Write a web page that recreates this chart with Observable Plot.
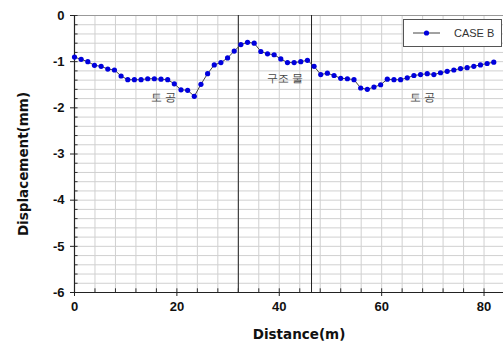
<!DOCTYPE html>
<html>
<head>
<meta charset="utf-8">
<script src="https://cdn.jsdelivr.net/npm/d3@7"></script>
<script src="https://cdn.jsdelivr.net/npm/@observablehq/plot@0.6"></script>
<style>
  html, body { margin: 0; padding: 0; background: #fff; }
  #wrap { position: relative; width: 503px; height: 345px; font-family: "Liberation Sans", Arial, sans-serif; }
  #legend { position: absolute; left: 403px; top: 19px; width: 97px; height: 26px; border: 1px solid #555; background: #fff; display: flex; align-items: center; }
  #legend span { font-size: 11px; color: #333; margin-left: 6px; }
</style>
</head>
<body>
<div id="wrap"></div>
<script>
const seriesName = "CASE B";
const xLabel = "Distance(m)";
const yLabel = "Displacement(mm)";
const distance = [0, 1.3, 2.6, 3.9, 5.2, 6.5, 7.8, 9.1, 10.4, 11.7, 13.0, 14.3, 15.6, 16.9, 18.2, 19.5,
  20.8, 22.1, 23.4, 24.7, 26.0, 27.3, 28.6, 29.9, 31.2, 32.5, 33.8, 35.1, 36.4, 37.7, 39.0, 40.3,
  41.6, 42.9, 44.2, 45.5, 46.8, 48.1, 49.4, 50.7, 52.0, 53.3, 54.6, 55.9, 57.2, 58.5, 59.8, 61.1,
  62.4, 63.7, 65.0, 66.3, 67.6, 68.9, 70.2, 71.5, 72.8, 74.1, 75.4, 76.7, 78.0, 79.3, 80.6, 81.9];
const displacement = [-0.90, -0.95, -1.00, -1.08, -1.10, -1.16, -1.18, -1.31, -1.39, -1.39, -1.39, -1.37, -1.37, -1.38, -1.39, -1.48,
  -1.61, -1.62, -1.75, -1.49, -1.26, -1.07, -1.02, -0.92, -0.77, -0.63, -0.58, -0.60, -0.78, -0.83, -0.85, -0.94,
  -1.02, -1.02, -1.00, -0.97, -1.10, -1.28, -1.25, -1.30, -1.36, -1.37, -1.39, -1.57, -1.60, -1.55, -1.50, -1.38,
  -1.39, -1.39, -1.35, -1.30, -1.28, -1.26, -1.28, -1.24, -1.21, -1.18, -1.15, -1.13, -1.10, -1.07, -1.04, -1.01];
const sectionBounds = [32, 46.3];
const zoneLabels = ["토 공", "구조 물", "토 공"];
const zoneX = [17.4, 41.2, 68.0];
const zoneY = [-1.77, -1.36, -1.77];
const xTicks = [0, 20, 40, 60, 80];
const yTicks = [0, -1, -2, -3, -4, -5, -6];
const xMax = 83.8;

const data = distance.map((d, i) => ({x: d, y: displacement[i]}));
const zones = zoneLabels.map((t, i) => ({t, x: zoneX[i], y: zoneY[i]}));
const xGrid = d3.range(0, xMax, 4);
const yGrid = d3.range(-6, 0.001, 0.2).map(v => +v.toFixed(1));

const font = {fontSize: 13, fontWeight: "bold", fill: "#111"};
const titleFont = {fontSize: 13.5, fontWeight: "bold", fill: "#111", fontFamily: "'DejaVu Sans', sans-serif"};

const chart = Plot.plot({
  width: 503,
  height: 345,
  marginLeft: 74,
  marginRight: 0,
  marginTop: 15,
  marginBottom: 53,
  style: {fontFamily: "'Liberation Sans', Arial, sans-serif", background: "transparent"},
  x: {domain: [0, xMax]},
  y: {domain: [-6, 0]},
  marks: [
    Plot.ruleX(xGrid, {stroke: "#d0d0d0", strokeWidth: 1}),
    Plot.ruleY(yGrid, {stroke: "#d0d0d0", strokeWidth: 1}),
    Plot.ruleY([0], {stroke: "#999"}),
    Plot.ruleX([xMax], {stroke: "#999"}),
    Plot.ruleX(sectionBounds, {stroke: "#222", strokeWidth: 1}),
    Plot.ruleY(yGrid, {x1: 0, x2: 0.7, stroke: "#333"}),
    Plot.ruleX(xGrid, {y1: -6, y2: -5.92, stroke: "#333"}),
    Plot.ruleX([0], {stroke: "#222", strokeWidth: 1.2}),
    Plot.ruleY([-6], {stroke: "#222", strokeWidth: 1.2}),
    Plot.text(zones, {x: "x", y: "y", text: "t", fontSize: 11, fill: "#444"}),
    Plot.line(data, {x: "x", y: "y", stroke: "#444", strokeWidth: 1}),
    Plot.dot(data, {x: "x", y: "y", r: 2.6, fill: "#0000dd", stroke: "none"}),
    Plot.axisX({ticks: xTicks, tickSize: 4, tickPadding: 5, ...font, label: null, stroke: "#222"}),
    Plot.axisY({ticks: yTicks, tickSize: 4, tickPadding: 6, ...font, label: null, stroke: "#222", tickFormat: d => d === 0 ? "0" : d3.format("d")(d).replace("−", "-")}),
    Plot.text([xLabel], {text: d => d, frameAnchor: "bottom", textAnchor: "middle", dx: 10, dy: 46, ...titleFont}),
    Plot.text([yLabel], {text: d => d, frameAnchor: "left", textAnchor: "middle", dx: -51, dy: 10, rotate: -90, ...titleFont})
  ]
});
document.getElementById("wrap").appendChild(chart);

const legend = document.createElement("div");
legend.id = "legend";
legend.innerHTML = `<svg width="36" height="12" style="margin-left:8px"><line x1="1" y1="6" x2="28" y2="6" stroke="#444" stroke-width="1"/><circle cx="14.5" cy="6" r="2.6" fill="#0000dd"/></svg><span>${seriesName}</span>`;
document.getElementById("wrap").appendChild(legend);
</script>
</body>
</html>
